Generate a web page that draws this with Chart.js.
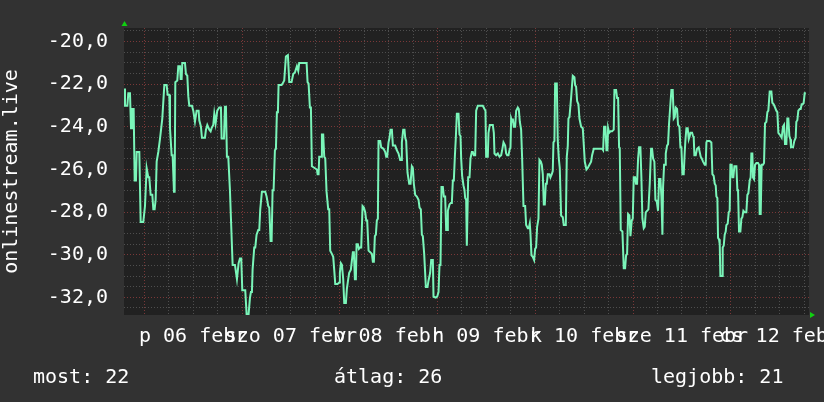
<!DOCTYPE html>
<html><head><meta charset="utf-8">
<script src="https://cdn.jsdelivr.net/npm/chart.js@4.4.1/dist/chart.umd.min.js"></script>
<style>
html,body{margin:0;padding:0;background:#323232;}
#wrap{position:relative;width:824px;height:402px;overflow:hidden;}
canvas{position:absolute;left:0;top:0;}
.leg{position:absolute;top:364px;line-height:24px;font-size:20px;font-family:'DejaVu Sans Mono',monospace;color:#fff;white-space:pre;}
</style></head><body>
<div id="wrap"><canvas id="c" width="824" height="402"></canvas><div id="legend"></div></div>
<script>
// time in hours from 2015-02-06 00:00, temperature values
const hoursA=[-4.9,-4.74,-4.49,-4.16,-3.92,-3.51,-3.26,-3.02,-2.61,-2.36,-2.04,-1.87,-1.22,-0.89,-0.24,0.17,0.58,0.99,1.23,1.56,1.97,2.22,2.54,2.79,3.04,3.44,3.85,4.42,4.92,5.49,5.73,6.14,6.31,6.72,6.96,7.29,7.45,7.62,8.11,8.35,8.76,8.93,9.17,9.33,9.99,10.23,10.56,10.81,11.05,11.71,12.03,12.44,12.85,13.34,13.5,13.91,14.16,14.9,15.14,15.47,15.96,16.29,16.53,16.94,17.19,17.51,17.92,18.41,18.82,18.99,19.56,19.8,20.05,20.29,20.62,21.03,21.28,21.69,22.26];
const tempsA=[-22.2,-23.01,-23.01,-23.01,-22.42,-22.42,-24.06,-23.16,-23.16,-26.52,-26.52,-25.18,-25.18,-28.46,-28.46,-27.72,-25.93,-26.37,-26.37,-27.19,-27.19,-27.87,-27.87,-27.42,-25.63,-25.18,-24.58,-23.61,-22.04,-22.04,-22.49,-22.49,-24.06,-25.33,-25.33,-27.04,-27.04,-21.9,-21.82,-21.15,-21.15,-21.75,-21.75,-21.0,-21.0,-21.52,-21.6,-22.57,-23.01,-23.01,-23.24,-23.76,-23.24,-23.24,-23.69,-23.99,-24.51,-24.51,-24.13,-23.91,-24.13,-24.21,-24.06,-23.91,-23.39,-23.84,-23.24,-23.09,-23.09,-24.55,-24.55,-23.06,-23.06,-25.4,-25.4,-26.97,-28.31,-30.48,-30.48];
const hoursB=[22.75,23.16,23.48,23.81,24.06,24.79,25.12,25.61,25.94,26.18,26.43,26.59,27.0,27.25,27.57,27.98,28.23,28.47,28.88,29.7,30.03,30.44,30.68,31.01,31.26,31.5,31.75,32.07,32.32,32.56,32.81,32.97,33.71,33.96,34.36,34.77,35.26,35.59,36.16,36.57,36.98,37.47,37.8,38.04,39.85,40.09,40.34,40.66,40.91,41.15,41.81,42.38,42.55,42.79,42.95,43.44,43.61,43.93,44.18,44.43,44.75,45.16,45.41,45.65,46.06,46.39,46.63,46.88,47.45,47.86,48.02,48.27,48.52,48.84,49.09,49.5,49.74,50.07,50.31,50.72];
const tempsB=[-31.15,-30.4,-30.18,-30.18,-31.67,-31.67,-32.79,-32.79,-32.04,-31.75,-31.75,-30.7,-29.66,-29.66,-29.06,-28.84,-28.84,-27.87,-27.04,-27.04,-27.27,-27.72,-27.79,-29.36,-29.36,-26.97,-26.97,-25.1,-25.03,-23.31,-23.31,-22.04,-22.04,-21.97,-21.82,-20.7,-20.63,-21.9,-21.9,-21.52,-21.45,-21.15,-21.37,-21.0,-21.0,-21.9,-21.97,-23.09,-23.09,-25.85,-25.93,-26.0,-26.22,-26.22,-25.4,-25.4,-24.36,-24.36,-25.4,-25.48,-27.04,-27.87,-27.87,-29.81,-29.96,-30.1,-30.7,-31.37,-31.37,-31.3,-30.85,-30.4,-30.48,-31.15,-32.27,-32.27,-31.6,-31.15,-30.85,-30.7];
const hoursC=[51.21,51.46,51.71,51.95,52.12,52.44,52.69,53.01,53.26,53.59,53.91,54.24,54.49,54.73,55.06,55.47,55.88,56.12,56.37,56.61,56.86,57.1,57.35,57.51,57.92,58.17,58.74,59.15,59.39,59.64,59.97,60.21,60.46,60.79,61.03,61.6,62.01,62.42,62.83,63.08,63.24,63.57,63.89,64.06,64.3,64.63,65.04,65.37,65.69,65.94,66.18,66.51,66.92,67.33,67.58,67.9,68.15,68.39,68.72,69.13,69.54,69.78,70.19,70.44,70.85,71.01,71.58,71.91,72.24,72.48,72.73,72.97,73.3,73.55,73.87,74.12,74.36,74.53,74.94,75.27,75.51,75.76,76.0,76.25,76.49,76.74,77.15,77.39,77.64,77.8,78.04,78.37,78.62,78.78,79.03,79.19];
const tempsC=[-29.88,-29.88,-31.15,-31.15,-29.51,-29.51,-29.73,-29.66,-29.66,-27.72,-27.79,-28.01,-28.39,-28.39,-29.81,-29.88,-29.96,-30.33,-30.33,-29.13,-29.06,-28.39,-28.31,-24.66,-24.66,-24.96,-25.03,-25.18,-25.4,-25.4,-24.73,-24.51,-24.13,-24.13,-24.88,-24.88,-25.1,-25.25,-25.55,-25.55,-24.73,-24.13,-24.13,-24.51,-24.66,-26.15,-26.67,-26.67,-25.85,-25.93,-26.67,-27.19,-27.27,-27.42,-27.79,-27.87,-29.06,-29.13,-29.96,-31.52,-31.52,-31.22,-30.85,-30.25,-30.25,-31.97,-32.01,-31.97,-31.75,-30.48,-30.48,-26.82,-26.82,-27.27,-27.27,-28.84,-28.84,-27.94,-27.64,-27.57,-27.57,-26.52,-26.52,-25.4,-24.51,-23.39,-23.39,-24.36,-24.43,-25.48,-26.3,-26.75,-26.97,-27.34,-27.42,-29.58];
const hoursD=[79.52,79.85,80.09,80.42,80.66,80.91,81.24,81.48,81.89,83.12,83.53,83.77,83.93,84.34,84.51,84.83,85.57,85.82,85.98,86.39,86.8,87.21,87.62,87.86,88.19,88.6,88.84,89.09,89.42,89.66,89.91,90.07,90.31,90.48,90.72,91.05,91.3,91.71,91.95,92.2,92.52,92.77,93.1,93.51,93.75,94.16,94.41,94.65,94.81,95.06,95.39,95.71,95.96,96.2,96.45,96.78,97.02,97.35,97.6,97.84,98.09,98.33,98.58,98.82,99.07,99.48,99.72,100.05,100.29,100.46,100.7,100.87,101.28,101.52,101.77,102.01,102.34,102.75,102.99,103.49,103.73,103.98,104.14,104.39,104.79,105.2,105.61,105.78,106.02,106.27,106.59,106.84,107.25,107.66];
const tempsD=[-26.37,-26.37,-25.48,-25.18,-25.18,-25.33,-25.33,-23.24,-23.01,-23.01,-23.16,-23.24,-25.4,-25.4,-24.28,-23.91,-23.91,-24.28,-25.25,-25.33,-25.25,-25.4,-25.33,-25.1,-24.73,-24.88,-25.25,-25.33,-25.33,-25.1,-24.96,-23.61,-23.76,-23.61,-23.99,-23.99,-23.24,-23.09,-23.16,-23.76,-24.13,-25.48,-27.72,-27.72,-28.61,-28.76,-28.76,-28.54,-28.99,-30.03,-30.1,-30.25,-29.73,-29.66,-28.69,-28.31,-25.55,-25.63,-25.78,-26.22,-27.64,-27.64,-26.67,-26.67,-26.22,-26.22,-26.37,-26.22,-26.07,-24.73,-24.66,-21.97,-21.97,-24.66,-25.48,-25.93,-28.16,-28.24,-28.61,-28.61,-25.4,-24.88,-23.61,-23.54,-22.64,-21.6,-21.67,-22.04,-22.12,-22.79,-22.94,-23.61,-23.99,-24.06];
const hoursE=[108.15,108.56,108.88,109.29,109.7,109.95,110.36,112.4,112.65,112.89,113.22,113.47,113.71,113.87,114.12,114.45,114.85,115.26,115.43,115.84,116.08,116.33,116.57,116.74,116.98,117.39,117.72,118.05,118.29,118.54,118.78,119.11,119.36,119.68,119.93,120.17,120.5,120.74,120.99,121.24,121.48,121.81,122.06,122.3,122.63,122.87,123.12,123.44,123.77,124.1,124.43,124.67,124.92,125.24,125.49,125.82,126.14,126.39,126.72,126.96,127.21,127.37,127.62,127.86,128.03,128.35,128.6,128.84,129.17,129.42,129.74,129.99,130.23,130.48,130.81,131.05,131.38,131.63,131.87,132.12,132.44,132.69,132.85,133.1,133.42,133.67,133.92,134.08,134.49,134.73,134.9,135.06,135.39,135.71,136.12];
const tempsE=[-25.63,-26.0,-25.93,-25.78,-25.63,-25.33,-25.03,-25.03,-25.1,-23.99,-23.99,-25.1,-25.1,-24.06,-24.28,-24.21,-24.21,-24.13,-22.27,-22.27,-22.64,-22.64,-24.96,-25.03,-28.84,-28.91,-30.63,-30.63,-30.03,-29.96,-28.09,-28.16,-29.13,-28.39,-28.31,-26.37,-26.37,-26.67,-26.67,-25.48,-24.96,-24.96,-26.45,-28.31,-28.76,-28.69,-28.01,-27.94,-27.87,-26.67,-25.03,-25.03,-25.48,-25.63,-27.42,-27.49,-27.94,-26.45,-26.45,-27.27,-29.06,-26.82,-25.78,-25.78,-25.25,-24.88,-24.81,-23.84,-22.94,-22.27,-22.27,-23.61,-23.54,-23.09,-23.16,-23.91,-23.99,-24.96,-24.96,-26.22,-26.22,-25.18,-24.66,-24.06,-24.06,-24.58,-24.43,-24.28,-24.28,-24.43,-24.51,-25.33,-25.33,-25.03,-24.96];
const hoursF=[136.61,136.86,137.19,137.6,137.84,138.01,138.17,138.82,139.23,139.48,139.8,140.05,140.3,140.46,140.7,140.87,141.11,141.28,141.44,141.85,142.01,142.26,142.5,142.75,142.91,143.24,143.49,143.73,143.9,144.22,144.39,144.63,144.88,145.37,145.61,145.78,146.02,146.35,146.6,146.84,147.09,147.41,147.82,148.07,148.31,148.64,148.88,149.05,149.29,149.46,149.7,149.95,150.28,150.68,150.93,151.09,151.34,151.58,151.91,152.16,152.4,152.73,152.98,153.22,153.55,153.96,154.2,154.53,154.86,155.18,155.43,155.68,156.0,156.25,156.49,156.82,157.07,157.31,157.64,157.88,158.13,158.38,158.62,158.78,159.28,159.6,159.93,160.09,160.34,160.58,160.91,161.16,161.4,161.65,161.89,162.14,162.39];
const tempsF=[-25.4,-25.48,-25.63,-25.78,-25.78,-24.73,-24.66,-24.66,-24.73,-26.22,-26.3,-26.67,-26.75,-27.27,-27.34,-29.21,-29.28,-29.51,-31.0,-31.0,-29.66,-29.58,-29.06,-28.91,-28.61,-28.54,-28.01,-27.94,-25.78,-25.78,-26.37,-26.37,-25.85,-25.85,-26.97,-26.97,-28.91,-28.91,-28.31,-28.24,-27.94,-28.01,-28.01,-27.19,-27.12,-26.52,-26.37,-25.25,-25.25,-26.37,-26.45,-25.78,-25.7,-25.7,-25.78,-28.09,-28.09,-25.78,-25.78,-25.7,-23.84,-23.76,-23.31,-23.24,-22.34,-22.34,-22.87,-22.94,-23.09,-23.24,-23.31,-24.28,-24.36,-24.43,-24.51,-23.99,-23.91,-24.81,-24.81,-23.61,-23.61,-24.43,-24.58,-24.96,-24.96,-24.66,-24.51,-23.76,-23.69,-23.24,-23.16,-23.16,-22.94,-22.94,-22.87,-22.42,-22.39];

const dayLabels=['p 06 febr','szo 07 febr','v 08 febr','h 09 febr','k 10 febr','sze 11 febr','cs 12 febr'];
const yTitle='onlinestream.live';
const legendNames=['most','átlag','legjobb'];
const legendValues=[22,26,21];

const hours=[].concat(hoursA,hoursB,hoursC,hoursD,hoursE,hoursF);
const temps=[].concat(tempsA,tempsB,tempsC,tempsD,tempsE,tempsF);
const points=hours.map((h,i)=>({x:h,y:temps[i]}));

// legend (HTML text)
const legLeft=[33,334,651];
const lg=document.getElementById('legend');
legendNames.forEach((n,i)=>{const d=document.createElement('div');d.className='leg';d.style.left=legLeft[i]+'px';d.textContent=n+': '+legendValues[i];lg.appendChild(d);});

const FONT='DejaVu Sans Mono';
const frame={
  id:'frame',
  beforeDraw(chart){const {ctx,chartArea:a}=chart;ctx.save();ctx.fillStyle='#212121';ctx.fillRect(a.left,a.top,a.right-a.left,a.bottom-a.top);ctx.restore();},
  afterDraw(chart){
    const {ctx,chartArea:a}=chart;ctx.save();ctx.fillStyle='#10d010';
    ctx.beginPath();ctx.moveTo(a.left-2.5,a.top-2);ctx.lineTo(a.left+3.5,a.top-2);ctx.lineTo(a.left+0.5,a.top-7);ctx.closePath();ctx.fill();
    ctx.beginPath();ctx.moveTo(a.right+1,a.bottom-3);ctx.lineTo(a.right+1,a.bottom+3);ctx.lineTo(a.right+6,a.bottom);ctx.closePath();ctx.fill();
    ctx.restore();
  }
};

new Chart(document.getElementById('c'),{
  type:'line',
  data:{datasets:[{data:points,borderColor:'#7af5b9',borderWidth:2,pointRadius:0,tension:0,fill:false}]},
  options:{
    responsive:false,animation:false,
    plugins:{legend:{display:false},tooltip:{enabled:false}},
    layout:{padding:{top:14,right:15,left:0,bottom:0}},
    scales:{
      x:{type:'linear',min:-4.98,max:163.2,
        afterBuildTicks:s=>{const t=[];for(let v=0;v<=162;v+=6)t.push({value:v});s.ticks=t;},
        afterFit:s=>{s.height=87;},
        grid:{color:c=>(c.tick&&c.tick.value%24===0)?'#7a3838':'#4e4e4e',lineWidth:1,drawTicks:false},
        border:{display:false,dash:[1,2]},
        ticks:{autoSkip:false,maxRotation:0,minRotation:0,padding:10,color:'#ffffff',font:{family:FONT,size:20},
          callback:v=>(v%24===12)?dayLabels[(v-12)/24]:''}
      },
      y:{min:-32.83,max:-19.36,
        afterBuildTicks:s=>{const t=[];for(let v=-32.5;v<=-19.5;v+=0.5)t.push({value:v});s.ticks=t;},
        afterFit:s=>{s.width=124;},
        grid:{color:c=>(c.tick&&c.tick.value%2===0)?'#7a3838':'#4e4e4e',lineWidth:1,drawTicks:false},
        border:{display:false,dash:[1,2]},
        title:{display:true,text:yTitle,color:'#ffffff',font:{family:FONT,size:20},padding:0},
        ticks:{autoSkip:false,padding:16,color:'#ffffff',font:{family:FONT,size:20},
          callback:v=>(v%2===0)?v.toFixed(1).replace('.',','):''}
      }
    }
  },
  plugins:[frame]
});
</script>
</body></html>
